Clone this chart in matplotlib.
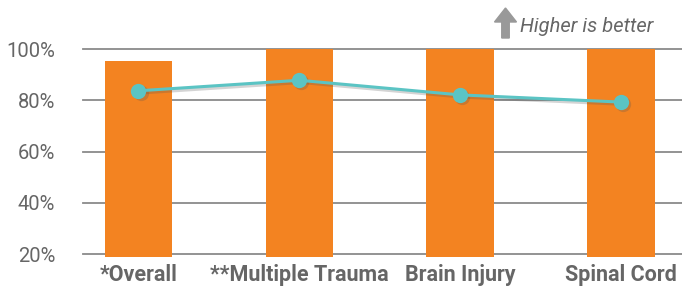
import matplotlib
matplotlib.use("Agg")
import matplotlib.pyplot as plt
from matplotlib.transforms import offset_copy
from matplotlib.patches import FancyArrow

categories = ["*Overall", "**Multiple Trauma", "Brain Injury", "Spinal Cord"]
bar_values = [95.2, 100, 100, 100]
line_values = [83.7, 87.8, 82.1, 79.3]
y_ticks = [20, 40, 60, 80, 100]
y_labels = ["20%", "40%", "60%", "80%", "100%"]

ORANGE = "#F38321"
TEAL = "#5BC4C4"
GRID = "#8a8a8a"
TXT = "#666666"

fig = plt.figure(figsize=(6.82, 2.90), dpi=100)
ax = fig.add_axes([83 / 682, 1 - 256.7 / 290, 1 - 83 / 682, (256.7 - 49) / 290])

x = list(range(len(categories)))
ax.bar(x, [v - 19 for v in bar_values], bottom=19, width=0.42, color=ORANGE, zorder=2)
shadow_tr = offset_copy(ax.transData, fig=fig, x=1.5, y=-1.5, units="points")
ax.plot(x, line_values, color="#555555", alpha=0.25, lw=2.4, marker="o", markersize=11,
        markeredgewidth=0, zorder=2.5, transform=shadow_tr)
ax.plot(x, line_values, color=TEAL, lw=2.2, marker="o", markersize=11,
        markeredgewidth=0, zorder=3)

ax.set_ylim(19, 100)
ax.set_xlim(-0.345, 3.38)
ax.set_yticks(y_ticks)
ax.set_yticklabels(y_labels)
for t in y_ticks:
    ax.axhline(t, color=GRID, lw=1.3, zorder=1, clip_on=False)
ax.set_xticks(x)
ax.set_xticklabels(categories)
for s in ax.spines.values():
    s.set_visible(False)
ax.tick_params(axis="both", length=0)
ax.tick_params(axis="y", pad=20, labelsize=14.5, labelcolor=TXT)
for lbl in ax.get_yticklabels():
    lbl.set_fontfamily("Roboto")
ax.tick_params(axis="x", pad=5, labelsize=15.5, labelcolor=TXT)
for lbl in ax.get_xticklabels():
    lbl.set_fontfamily("Roboto")
    lbl.set_fontweight("bold")

# "Higher is better" annotation
fig.text(520 / 682, 1 - 32 / 290, "Higher is better", fontsize=14.5, style="italic",
         color=TXT, family="Roboto", ha="left", va="baseline")
fig.patches.append(FancyArrow(505.5 / 682, 1 - 38 / 290, 0, 30 / 290, width=7.5 / 682,
                              head_width=22 / 682, head_length=14 / 290,
                              length_includes_head=True, color="#999999",
                              transform=fig.transFigure, figure=fig))

fig.savefig("out.png", dpi=100)
